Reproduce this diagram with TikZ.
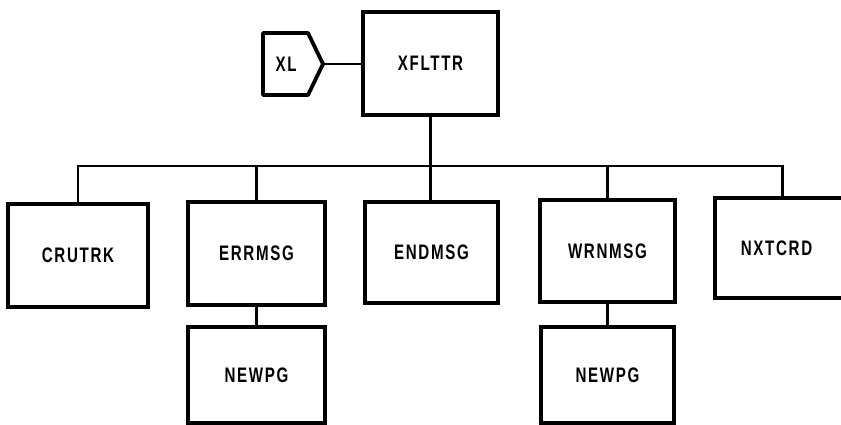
\documentclass[tikz,border=0pt]{standalone}
\usepackage{fontspec}
\newfontfamily\lblfont[FakeStretch=0.72,LetterSpace=8]{Liberation Sans Bold}
\begin{document}
\begin{tikzpicture}[x=1pt,y=-1pt,
  modbox/.style={draw,line width=3.8pt,minimum width=#1,inner sep=0pt,font=\lblfont\fontsize{21}{23}\selectfont},
  conn/.style={line width=2.2pt},
  lbl/.style={inner sep=0pt,font=\lblfont\fontsize{21}{23}\selectfont}]
\useasboundingbox (0,0) rectangle (841,425);
% top module
\node[modbox=135pt,minimum height=103pt] (xfltr) at (430.5,63.5) {XFLTTR};
% XL connector symbol
\draw[line width=3.8pt,line join=round] (308,33) -- (263,33) -- (263,95) -- (308,95) -- (323,64) -- cycle;
\node[lbl] (xl) at (286,64) {XL};
\coordinate (xltip) at (323,64);
% second level
\node[modbox=140pt,minimum height=103pt] (crutrk) at (78,255.5) {CRUTRK};
\node[modbox=137pt,minimum height=103pt] (errmsg) at (256.5,253.5) {ERRMSG};
\node[modbox=133pt,minimum height=101pt] (endmsg) at (431.5,252.5) {ENDMSG};
\node[modbox=135pt,minimum height=102pt] (wrnmsg) at (607.5,251) {WRNMSG};
\node[modbox=135pt,minimum height=100pt,text width=135pt,align=center] (nxtcrd) at (782.5,248) {\hspace*{-12pt}NXTCRD};
% third level
\node[modbox=137pt,minimum height=96pt] (newpg1) at (256.5,375) {NEWPG};
\node[modbox=133pt,minimum height=96pt] (newpg2) at (607.5,375) {NEWPG};
% connectors
\coordinate (bus) at (430.5,166);
\draw[conn] (xltip) -- (xltip -| xfltr.west);
\draw[conn] (xfltr.south) -- (xfltr.south |- endmsg.north);
\draw[conn] (crutrk.north) |- (bus) -| (nxtcrd.north);
\draw[conn] (errmsg.north) -- (errmsg.north |- bus);
\draw[conn] (wrnmsg.north) -- (wrnmsg.north |- bus);
\draw[conn] (errmsg.south) -- (newpg1.north);
\draw[conn] (wrnmsg.south) -- (newpg2.north);
\end{tikzpicture}
\end{document}
